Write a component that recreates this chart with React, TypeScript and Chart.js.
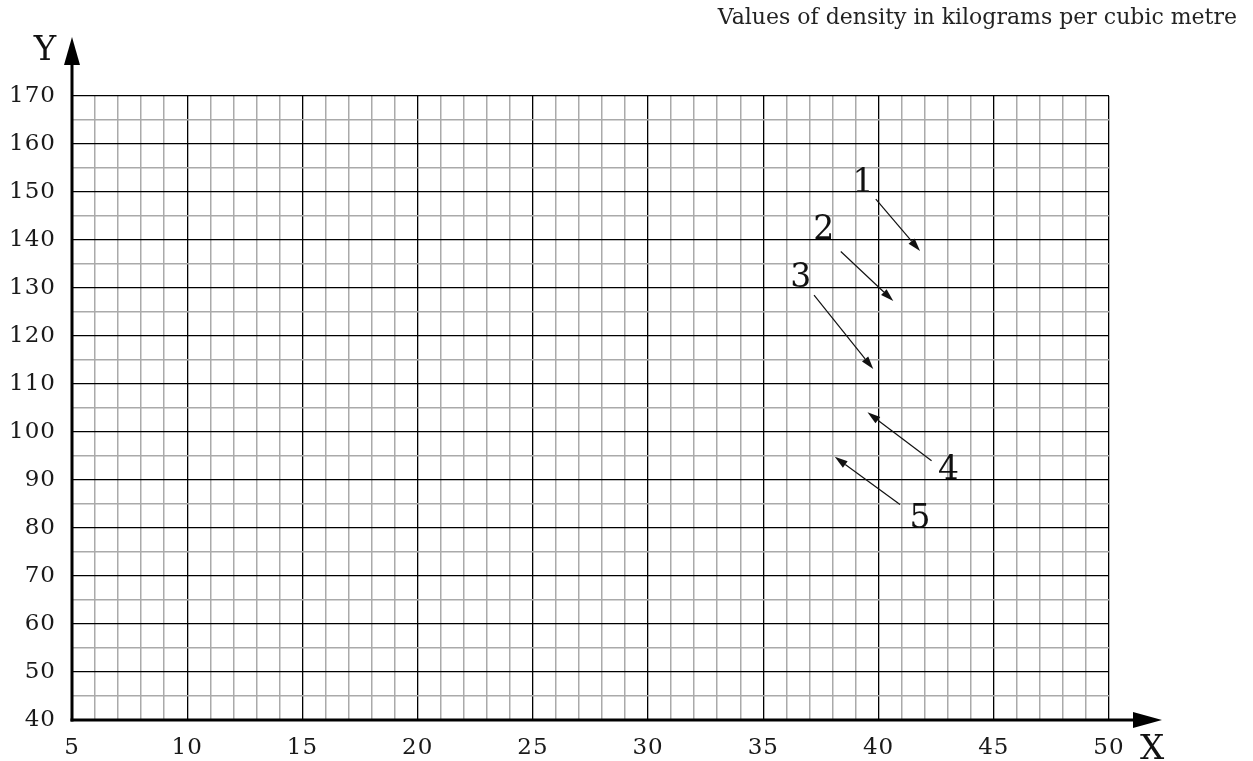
import React, { useEffect, useRef } from "react";
import { Chart, registerables } from "chart.js";

Chart.register(...registerables);

const xMin = 5;
const xMax = 50;
const yMin = 40;
const yMax = 170;
const xStep = 1;
const yStep = 5;
const xLabelEvery = 5;
const yLabelEvery = 10;

const titleText = "Values of density in kilograms per cubic metre";
const xAxisName = "X";
const yAxisName = "Y";

// annotation arrows (data coordinates)
const arrowLabels = ["1", "2", "3", "4", "5"];
const arrowStartX = [39.88, 38.36, 37.2, 42.3, 40.93];
const arrowStartY = [148.5, 137.6, 128.5, 94.0, 84.9];
const arrowTipX = [41.8, 40.64, 39.77, 39.52, 38.1];
const arrowTipY = [137.7, 127.3, 113.1, 104.1, 94.85];
const labelX = [39.33, 37.62, 36.62, 43.03, 41.8];
const labelY = [151.8, 141.9, 132.0, 91.9, 81.7];

const FONT = "'DejaVu Serif', serif";

const overlayPlugin = {
  id: "overlay",
  beforeDraw(chart: any) {
    chart.ctx.letterSpacing = "1px";
  },
  afterDraw(chart: any) {
    const { ctx } = chart;
    ctx.letterSpacing = "0px";
    const xs = chart.scales.x;
    const ys = chart.scales.y;
    const x0 = xs.getPixelForValue(xMin);
    const y0 = ys.getPixelForValue(yMin);
    const yTop = ys.getPixelForValue(yMax);
    const xRight = xs.getPixelForValue(xMax);
    ctx.save();
    ctx.strokeStyle = "#000";
    ctx.fillStyle = "#000";
    ctx.lineWidth = 3;
    // y axis
    ctx.beginPath();
    ctx.moveTo(x0, y0 + 1.5);
    ctx.lineTo(x0, yTop - 34);
    ctx.stroke();
    ctx.beginPath();
    ctx.moveTo(x0, yTop - 59);
    ctx.lineTo(x0 - 8, yTop - 31);
    ctx.lineTo(x0 + 8, yTop - 31);
    ctx.closePath();
    ctx.fill();
    // x axis
    ctx.beginPath();
    ctx.moveTo(x0 - 1.5, y0);
    ctx.lineTo(xRight + 27, y0);
    ctx.stroke();
    ctx.beginPath();
    ctx.moveTo(xRight + 53, y0);
    ctx.lineTo(xRight + 24, y0 - 8);
    ctx.lineTo(xRight + 24, y0 + 8);
    ctx.closePath();
    ctx.fill();

    // axis names
    ctx.fillStyle = "#111";
    ctx.font = `34px ${FONT}`;
    ctx.textAlign = "center";
    ctx.textBaseline = "middle";
    ctx.fillText(yAxisName, x0 - 27, yTop - 45);
    ctx.fillText(xAxisName, xRight + 43, y0 + 30);

    // title
    ctx.font = `22px ${FONT}`;
    ctx.textAlign = "right";
    ctx.textBaseline = "middle";
    ctx.fillStyle = "#222";
    ctx.fillText(titleText, chart.width - 16, 18);

    // annotation arrows
    ctx.lineWidth = 1.2;
    ctx.strokeStyle = "#111";
    ctx.fillStyle = "#111";
    for (let i = 0; i < arrowLabels.length; i++) {
      const sx = xs.getPixelForValue(arrowStartX[i]);
      const sy = ys.getPixelForValue(arrowStartY[i]);
      const tx = xs.getPixelForValue(arrowTipX[i]);
      const ty = ys.getPixelForValue(arrowTipY[i]);
      const ang = Math.atan2(ty - sy, tx - sx);
      const hl = 13;
      const hw = 4;
      const bx = tx - hl * Math.cos(ang);
      const by = ty - hl * Math.sin(ang);
      ctx.beginPath();
      ctx.moveTo(sx, sy);
      ctx.lineTo(bx, by);
      ctx.stroke();
      ctx.beginPath();
      ctx.moveTo(tx, ty);
      ctx.lineTo(bx + hw * Math.sin(ang), by - hw * Math.cos(ang));
      ctx.lineTo(bx - hw * Math.sin(ang), by + hw * Math.cos(ang));
      ctx.closePath();
      ctx.fill();

      ctx.font = `33px ${FONT}`;
      ctx.textAlign = "center";
      ctx.textBaseline = "middle";
      ctx.fillText(arrowLabels[i], xs.getPixelForValue(labelX[i]), ys.getPixelForValue(labelY[i]));
    }
    ctx.restore();
  },
};

export default function App() {
  const ref = useRef<HTMLCanvasElement | null>(null);
  useEffect(() => {
    document.body.style.margin = "0";
    const canvas = ref.current;
    if (!canvas) return;
    const chart = new Chart(canvas, {
      type: "scatter",
      data: { datasets: [{ data: [], showLine: false }] },
      options: {
        animation: false,
        responsive: false,
        layout: { padding: { top: 96, right: 144, left: 0, bottom: 0 } },
        plugins: { legend: { display: false }, tooltip: { enabled: false }, title: { display: false } },
        scales: {
          x: {
            type: "linear",
            min: xMin,
            max: xMax,
            afterFit: (s: any) => {
              s.height = 41;
            },
            border: { display: false },
            grid: {
              drawTicks: false,
              color: (c: any) => (c.tick && c.tick.value % xLabelEvery === 0 ? "#000" : "#aaa"),
              lineWidth: (c: any) => (c.tick && c.tick.value % xLabelEvery === 0 ? 1.3 : 1.5),
            },
            ticks: {
              stepSize: xStep,
              autoSkip: false,
              maxRotation: 0,
              padding: 14,
              color: "#1a1a1a",
              font: { family: FONT, size: 23 },
              callback: (v: any) => (Number(v) % xLabelEvery === 0 ? String(v) : ""),
            },
          },
          y: {
            type: "linear",
            min: yMin,
            max: yMax,
            afterFit: (s: any) => {
              s.width = 72;
            },
            border: { display: false },
            grid: {
              drawTicks: false,
              color: (c: any) => (c.tick && c.tick.value % yLabelEvery === 0 ? "#000" : "#aaa"),
              lineWidth: (c: any) => (c.tick && c.tick.value % yLabelEvery === 0 ? 1.3 : 1.5),
            },
            ticks: {
              stepSize: yStep,
              autoSkip: false,
              padding: 16,
              color: "#1a1a1a",
              font: { family: FONT, size: 23 },
              callback: (v: any) => (Number(v) % yLabelEvery === 0 ? String(v) : ""),
            },
          },
        },
      },
      plugins: [overlayPlugin],
    });
    return () => chart.destroy();
  }, []);
  return (
    <div style={{ width: 1253, height: 761 }}>
      <canvas ref={ref} width={1253} height={761} style={{ display: "block" }} />
    </div>
  );
}
